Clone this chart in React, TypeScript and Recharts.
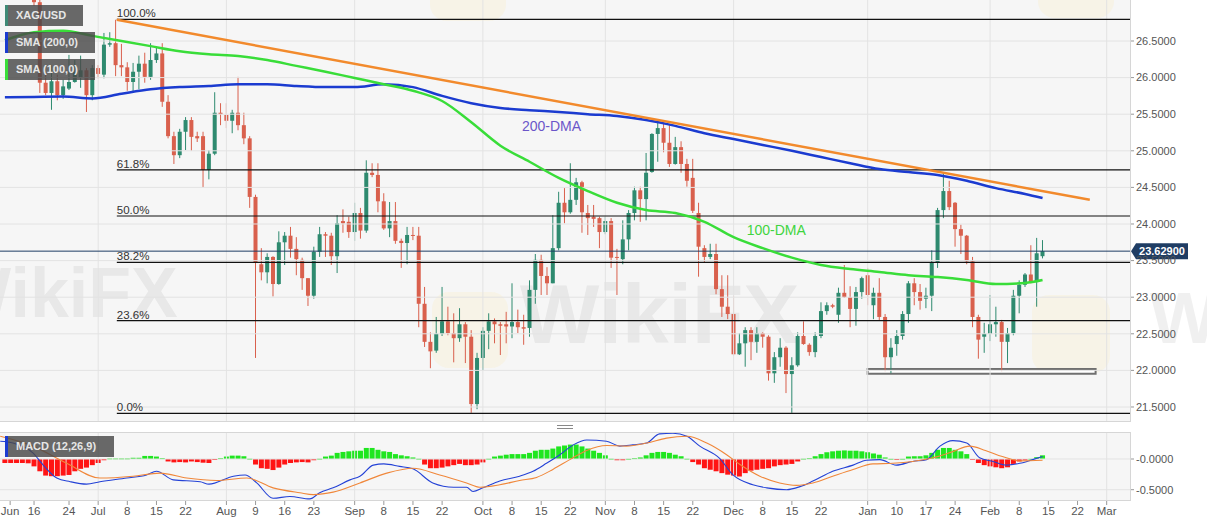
import React from "react";
import {
  ComposedChart,
  Bar,
  Line,
  XAxis,
  YAxis,
  ReferenceLine,
  ReferenceArea,
  ReferenceDot,
} from "recharts";

// one candle per trading day, index 0 = 9 Jun 2021, index 178 = 14 Feb 2022
const opens = [
  27.9, 27.68, 27.85, 28.0, 27.85, 27.55, 27.03, 25.93, 25.79, 25.95,
  25.76, 25.85, 25.94, 26.0, 26.1, 25.76, 26.13, 26.04, 26.45, 26.47,
  26.17, 26.14, 25.94, 26.08, 26.19, 26.01, 26.24, 26.33, 25.67, 25.2,
  24.94, 25.26, 25.42, 25.2, 25.2, 24.74, 24.96, 25.52, 25.49, 25.41,
  25.52, 25.35, 25.17, 24.37, 23.45, 23.34, 23.55, 23.18, 23.75, 23.84,
  23.66, 23.51, 23.26, 23.02, 23.62, 23.86, 23.84, 23.56, 24.04, 24.03,
  23.89, 24.15, 23.91, 24.7, 24.67, 24.31, 23.94, 24.04, 23.77, 23.74,
  23.85, 23.84, 22.91, 22.39, 22.27, 22.5, 22.67, 22.51, 22.44, 22.63,
  22.46, 21.54, 22.17, 22.54, 22.67, 22.63, 22.63, 22.6, 22.66, 22.59,
  22.58, 23.1, 23.51, 23.29, 23.19, 23.67, 24.29, 24.16, 24.33, 24.57,
  24.15, 24.1, 24.08, 23.89, 24.04, 23.55, 23.52, 23.79, 24.15, 24.46,
  24.34, 24.71, 25.23, 25.31, 25.11, 24.82, 25.05, 24.82, 24.63, 24.15,
  23.67, 23.55, 23.59, 23.11, 22.87, 22.77, 22.22, 22.37, 22.55, 22.39,
  22.51, 22.46, 21.96, 22.18, 22.31, 21.95, 22.07, 22.47, 22.35, 22.25,
  22.47, 22.81, 22.89, 22.76, 23.06, 23.0, 22.84, 23.07, 23.3, 22.89,
  23.06, 22.73, 22.18, 22.36, 22.47, 22.77, 23.19, 23.07, 22.98, 23.02,
  23.48, 24.19, 24.45, 24.29, 23.93, 23.84, 23.49, 22.73, 22.46, 22.5,
  22.63, 22.66, 22.39, 22.51, 23.02, 23.17, 23.31, 23.21, 23.56,
];
const highs = [
  28.15, 27.95, 28.1, 28.25, 27.95, 27.7, 27.1, 26.04, 26.17, 26.04,
  25.97, 26.31, 26.24, 26.3, 26.13, 26.17, 26.17, 26.61, 26.62, 26.79,
  26.46, 26.21, 26.2, 26.3, 26.34, 26.47, 26.42, 26.47, 25.76, 25.26,
  25.3, 25.46, 25.46, 25.26, 25.26, 25.01, 25.8, 25.65, 25.65, 25.56,
  26.01, 25.52, 25.2, 24.4, 23.67, 23.6, 23.56, 23.9, 23.89, 23.96,
  23.82, 23.54, 23.26, 23.69, 23.96, 23.89, 23.88, 24.12, 24.2, 24.1,
  24.29, 24.22, 24.87, 24.83, 24.83, 24.42, 24.3, 24.3, 23.8, 23.96,
  23.96, 23.96, 23.14, 22.52, 22.73, 23.14, 22.87, 22.78, 22.85, 22.66,
  22.55, 22.24, 22.59, 22.78, 22.71, 22.66, 22.8, 23.19, 22.83, 22.76,
  23.23, 23.59, 23.58, 23.41, 24.12, 24.44, 24.49, 24.83, 24.63, 24.59,
  24.26, 24.26, 24.1, 24.1, 24.08, 23.66, 24.05, 24.19, 24.51, 24.51,
  24.97, 25.24, 25.38, 25.38, 25.35, 25.19, 25.13, 24.89, 24.89, 24.29,
  23.71, 23.73, 23.73, 23.3, 23.3, 23.02, 22.51, 22.59, 22.59, 22.59,
  22.52, 22.48, 22.25, 22.44, 22.33, 22.18, 22.52, 22.67, 22.37, 22.52,
  22.93, 22.93, 22.91, 23.13, 23.44, 23.15, 23.14, 23.28, 23.4, 23.13,
  23.26, 22.77, 22.44, 22.55, 22.81, 23.22, 23.26, 23.18, 23.13, 23.64,
  24.22, 24.7, 24.59, 24.3, 23.99, 23.85, 23.55, 22.76, 22.65, 23.03,
  22.87, 22.69, 22.58, 23.1, 23.23, 23.33, 23.71, 23.81, 23.78,
];
const lows = [
  27.6, 27.45, 27.7, 27.75, 27.4, 26.98, 25.79, 25.76, 25.56, 25.69,
  25.71, 25.83, 25.93, 25.86, 25.53, 25.69, 25.99, 25.99, 26.42, 26.02,
  26.02, 25.82, 25.79, 25.84, 25.93, 25.97, 26.2, 25.6, 25.17, 24.82,
  24.9, 25.01, 25.0, 25.12, 24.5, 24.61, 24.94, 25.35, 25.31, 25.24,
  25.28, 25.09, 24.22, 22.17, 23.23, 23.19, 23.01, 23.17, 23.44, 23.54,
  23.3, 23.1, 22.88, 22.98, 23.55, 23.55, 23.44, 23.33, 23.88, 23.81,
  23.77, 23.8, 23.88, 24.64, 24.16, 23.92, 23.82, 23.73, 23.4, 23.45,
  23.78, 22.59, 22.32, 22.03, 22.24, 22.47, 22.48, 22.11, 22.39, 22.1,
  21.42, 21.47, 22.0, 22.29, 22.37, 22.21, 22.37, 22.44, 22.51, 22.35,
  22.46, 22.91, 23.03, 23.03, 23.19, 23.64, 24.01, 24.14, 24.26, 23.88,
  23.85, 23.96, 23.67, 23.86, 23.4, 23.03, 23.45, 23.64, 24.05, 24.03,
  24.05, 24.7, 24.85, 24.98, 24.78, 24.81, 24.7, 24.51, 24.15, 23.28,
  23.47, 23.52, 23.04, 22.73, 22.7, 22.2, 22.21, 22.05, 22.14, 22.24,
  22.31, 21.86, 21.83, 22.05, 21.69, 21.42, 22.05, 22.35, 22.2, 22.18,
  22.44, 22.76, 22.85, 22.65, 22.99, 22.59, 22.61, 22.98, 22.89, 22.7,
  22.68, 21.99, 21.96, 22.2, 22.42, 22.65, 22.89, 22.83, 22.85, 22.81,
  23.4, 24.08, 24.19, 23.69, 23.59, 23.45, 22.59, 22.16, 22.24, 22.4,
  22.46, 21.99, 22.1, 22.48, 22.78, 23.14, 23.19, 22.87, 23.53,
];
const closes = [
  27.68, 27.85, 28.0, 27.85, 27.55, 27.03, 25.93, 25.79, 25.95, 25.76,
  25.88, 25.94, 26.08, 26.1, 25.76, 26.13, 26.05, 26.45, 26.47, 26.17,
  26.14, 25.94, 26.08, 26.19, 26.01, 26.24, 26.33, 25.67, 25.2, 24.94,
  25.26, 25.42, 25.19, 25.17, 24.74, 24.96, 25.52, 25.5, 25.41, 25.52,
  25.35, 25.17, 24.37, 23.47, 23.34, 23.55, 23.18, 23.75, 23.84, 23.66,
  23.52, 23.26, 23.02, 23.62, 23.86, 23.84, 23.56, 24.01, 24.01, 23.89,
  24.15, 23.91, 24.7, 24.67, 24.31, 23.94, 24.04, 23.77, 23.74, 23.85,
  23.84, 22.91, 22.39, 22.26, 22.5, 22.67, 22.51, 22.44, 22.63, 22.46,
  21.54, 22.17, 22.54, 22.67, 22.63, 22.61, 22.6, 22.66, 22.59, 22.57,
  23.1, 23.51, 23.29, 23.19, 23.67, 24.29, 24.16, 24.33, 24.57, 24.16,
  24.08, 24.07, 23.89, 24.04, 23.54, 23.54, 23.79, 24.15, 24.46, 24.34,
  24.7, 25.23, 25.31, 25.11, 24.82, 25.05, 24.82, 24.59, 24.18, 23.69,
  23.55, 23.59, 23.11, 22.87, 22.77, 22.22, 22.37, 22.55, 22.39, 22.51,
  22.46, 21.96, 22.18, 22.31, 21.95, 22.07, 22.47, 22.36, 22.25, 22.47,
  22.81, 22.89, 22.87, 23.06, 23.0, 22.84, 23.07, 23.26, 23.03, 23.06,
  22.73, 22.18, 22.31, 22.47, 22.77, 23.19, 23.07, 22.95, 23.02, 23.47,
  24.19, 24.45, 24.23, 23.93, 23.84, 23.49, 22.73, 22.42, 22.5, 22.63,
  22.66, 22.39, 22.51, 23.02, 23.17, 23.31, 23.21, 23.6, 23.629,
];

// moving averages, read every 5th session
const smaIdx = [
  0, 5, 10, 15, 20, 25, 30, 35, 40, 45, 50, 55, 60, 65, 70, 75, 80, 85, 90,
  95, 100, 105, 110, 115, 120, 125, 130, 135, 140, 145, 150, 155, 160, 165,
  170, 175, 178,
];
const sma200 = [
  25.73, 25.735, 25.74, 25.715, 25.78, 25.84, 25.87, 25.885, 25.91, 25.91,
  25.885, 25.87, 25.87, 25.91, 25.87, 25.75, 25.65, 25.585, 25.555, 25.53,
  25.5, 25.475, 25.42, 25.34, 25.24, 25.16, 25.08, 25.0, 24.915, 24.83,
  24.75, 24.71, 24.67, 24.59, 24.49, 24.41, 24.355,
];
const sma100 = [
  26.51, 26.62, 26.64, 26.57, 26.5, 26.43, 26.36, 26.32, 26.295, 26.24,
  26.16, 26.08, 25.995, 25.91, 25.82, 25.68, 25.39, 25.07, 24.85, 24.63,
  24.45, 24.29, 24.19, 24.15, 24.03, 23.82, 23.67, 23.54, 23.44, 23.385,
  23.345, 23.3, 23.275, 23.235, 23.18, 23.195, 23.235,
];

// falling resistance line
const trendIdx = [19.2, 186.1];
const trendVal = [26.79, 24.33];

// Fibonacci retracement levels
const fibLabels = ["100.0%", "61.8%", "50.0%", "38.2%", "23.6%", "0.0%"];
const fibPrices = [26.796, 24.738, 24.109, 23.477, 22.679, 21.414];
const fibStart = 19.2;

// support zone
const zoneIdx = [148, 187.1];
const zonePrice = [21.955, 22.02];

// MACD (12,26,9)
const macdIdx = [
  -0.8, 1.4, 4.8, 6.5, 8.9, 11.2, 14, 16.3, 20.9, 24.3, 26, 28.9, 33.5, 35,
  39.2, 41.2, 43.2, 46, 48.9, 52.3, 54, 56.3, 59.2, 60.9, 63.2, 65, 67.7, 70,
  73.4, 77, 79.2, 80.3, 82, 84.9, 88.3, 90.6, 92.9, 95.2, 97.5, 99.8, 103.2,
  105.5, 107.7, 110.1, 112.3, 114.6, 117, 119.2, 122.6, 124.9, 128.3, 130.7,
  134.1, 136.4, 138.6, 142, 145.5, 147.8, 150.1, 152.9, 155.7, 158.1, 160.4,
  162.6, 165, 167.2, 169.5, 171.8, 174.1, 176.3, 178,
];
const macdVal = [
  0.29, 0.26, 0.1, -0.09, -0.31, -0.37, -0.41, -0.37, -0.31, -0.26, -0.2,
  -0.34, -0.37, -0.41, -0.28, -0.26, -0.39, -0.64, -0.61, -0.65, -0.55, -0.47,
  -0.34, -0.28, -0.1, -0.08, -0.12, -0.16, -0.39, -0.46, -0.46, -0.53, -0.47,
  -0.36, -0.28, -0.2, -0.07, 0.07, 0.23, 0.31, 0.29, 0.21, 0.23, 0.26, 0.41,
  0.42, 0.37, 0.21, 0.01, -0.26, -0.42, -0.47, -0.5, -0.45, -0.36, -0.2, -0.1,
  -0.02, -0.01, -0.1, -0.04, -0.01, 0.21, 0.3, 0.26, 0.02, -0.04, -0.1, -0.07,
  -0.01, 0.04,
];
const sigIdx = [
  -0.8, 4.8, 10.6, 16.3, 22, 26.6, 31.2, 36.3, 41.5, 46, 50.6, 52.9, 56.3,
  60.9, 65.5, 70, 74.6, 79.2, 81.5, 84.9, 88.3, 91.2, 94, 96.9, 99.8, 103.2,
  106.6, 110.1, 113.5, 117, 120.4, 123.8, 126.1, 129.5, 132.9, 135.8, 138.6,
  142, 145.5, 148.9, 152.3, 155.7, 159.2, 162.6, 165.5, 168.2, 171.1, 174.1,
  178,
];
const sigVal = [
  0.37, 0.21, -0.07, -0.31, -0.28, -0.23, -0.31, -0.35, -0.31, -0.47, -0.55,
  -0.58, -0.54, -0.39, -0.23, -0.15, -0.26, -0.39, -0.46, -0.42, -0.35, -0.3,
  -0.17, -0.01, 0.14, 0.22, 0.21, 0.26, 0.34, 0.37, 0.26, 0.07, -0.09, -0.28,
  -0.39, -0.43, -0.39, -0.28, -0.17, -0.08, -0.07, -0.04, 0.02, 0.12, 0.21,
  0.14, 0.04, -0.03, -0.02,
];
const hist = [
  -0.065, -0.065, -0.065, -0.065, -0.07, -0.12, -0.2, -0.27, -0.28, -0.28,
  -0.27, -0.26, -0.2, -0.16, -0.14, -0.1, -0.065, -0.02, 0.01, 0.01,
  0.01, 0.01, 0.02, 0.02, 0.05, 0.05, 0.04, 0.015, -0.04, -0.055,
  -0.05, -0.055, -0.04, -0.05, -0.06, -0.065, -0.005, 0.015, 0.04, 0.055,
  0.055, 0.045, 0.005, -0.09, -0.15, -0.16, -0.18, -0.14, -0.09, -0.065,
  -0.055, -0.05, -0.055, -0.02, 0.005, 0.04, 0.055, 0.1, 0.115, 0.125,
  0.135, 0.135, 0.18, 0.18, 0.15, 0.125, 0.115, 0.08, 0.06, 0.045,
  0.025, 0.005, -0.09, -0.15, -0.15, -0.14, -0.12, -0.1, -0.08, -0.1,
  -0.1, -0.09, -0.055, 0.005, 0.04, 0.055, 0.07, 0.08, 0.08, 0.08,
  0.1, 0.135, 0.15, 0.15, 0.17, 0.205, 0.22, 0.235, 0.235, 0.205,
  0.17, 0.135, 0.1, 0.06, 0.005, -0.02, -0.02, 0.003, 0.015, 0.025,
  0.06, 0.1, 0.115, 0.115, 0.1, 0.07, 0.045, 0.005, -0.05, -0.09,
  -0.15, -0.175, -0.2, -0.23, -0.255, -0.27, -0.285, -0.23, -0.19, -0.175,
  -0.16, -0.15, -0.12, -0.1, -0.09, -0.08, -0.04, 0.005, 0.015, 0.045,
  0.08, 0.11, 0.125, 0.135, 0.14, 0.135, 0.135, 0.125, 0.11, 0.09,
  0.07, 0.025, 0.003, -0.01, 0.003, 0.04, 0.045, 0.045, 0.06, 0.1,
  0.15, 0.18, 0.18, 0.15, 0.125, 0.08, -0.005, -0.065, -0.1, -0.12,
  -0.135, -0.15, -0.135, -0.08, -0.04, -0.02, 0.003, 0.03, 0.06,
];

// axes
const tickIdx = [
  0.9, 5, 11, 16, 21, 26, 31, 38, 43, 48, 53, 60, 65, 70, 75, 82, 87, 92, 97,
  103, 108, 113, 118, 125, 130, 135, 140, 148, 153, 158, 163, 169, 174, 179,
  184, 189,
];
const tickLabels = [
  "Jun", "16", "24", "Jul", "8", "15", "22", "Aug", "9", "16", "23", "Sep",
  "8", "15", "22", "Oct", "8", "15", "22", "Nov", "8", "15", "22", "Dec", "8",
  "15", "22", "Jan", "10", "17", "24", "Feb", "8", "15", "22", "Mar",
];
const monthIdx = [16, 38, 60, 82, 103, 125, 148, 169, 189];
const priceTicks = [21.5, 22, 22.5, 23, 23.5, 24, 24.5, 25, 25.5, 26, 26.5];
const macdTicks = [0, -0.5];

const X_DOMAIN: [number, number] = [-0.84, 193];
const GREEN = "#2e8a6f";
const RED = "#d9604d";
const GRID = "#e3e3e3";

const candles = opens.map((o, i) => ({
  i,
  o,
  h: highs[i],
  l: lows[i],
  c: closes[i],
}));
const histRows = hist.map((h, i) => ({ i, h }));
const sma200Rows = smaIdx.map((i, k) => ({ i, v: sma200[k] }));
const sma100Rows = smaIdx.map((i, k) => ({ i, v: sma100[k] }));
const trendRows = trendIdx.map((i, k) => ({ i, v: trendVal[k] }));
const macdRows = macdIdx.map((i, k) => ({ i, v: macdVal[k] }));
const sigRows = sigIdx.map((i, k) => ({ i, v: sigVal[k] }));
const lastPrice = closes[closes.length - 1];

const Candle = (p: any) => {
  const { x, width, payload } = p;
  let { y, height } = p;
  if (height < 0) {
    y += height;
    height = -height;
  }
  const { o, h, l, c } = payload;
  const k = h > l ? height / (h - l) : 0;
  const yo = y + (h - o) * k;
  const yc = y + (h - c) * k;
  const col = c >= o ? GREEN : RED;
  const cx = x + width / 2;
  const top = Math.min(yo, yc);
  const bh = Math.max(1, Math.abs(yc - yo));
  return (
    <g>
      <line x1={cx} x2={cx} y1={y} y2={y + height} stroke={col} strokeWidth={1} />
      <rect x={cx - 2} y={top} width={4} height={bh} fill={col} />
    </g>
  );
};

const HistBar = (p: any) => {
  const { x, width, payload } = p;
  let { y, height } = p;
  if (height < 0) {
    y += height;
    height = -height;
  }
  const cx = x + width / 2;
  return (
    <rect
      x={cx - 2.5}
      y={y}
      width={5}
      height={Math.max(height, 1)}
      fill={payload.h >= 0 ? "#1fe61f" : "#ff1414"}
    />
  );
};

const textAt =
  (text: string, color: string, size: number, dy = 0, weight = "normal") =>
  (props: any) => {
    const vb = props.viewBox || {};
    const x = (vb.x ?? 0) + (vb.width ?? 0) / 2;
    const y = (vb.y ?? 0) + (vb.height ?? 0) / 2 + dy;
    return (
      <text x={x} y={y} fill={color} fontSize={size} fontWeight={weight}>
        {text}
      </text>
    );
  };

const PriceTag = (props: any) => {
  const vb = props.viewBox || {};
  const x = (vb.x ?? 0) + (vb.width ?? 0) + 1;
  const y = vb.y ?? 0;
  return (
    <g>
      <polygon
        points={`${x},${y} ${x + 5},${y - 8} ${x + 57},${y - 8} ${x + 57},${y + 8} ${x + 5},${y + 8}`}
        fill="#1f3d64"
      />
      <text x={x + 31} y={y + 4} textAnchor="middle" fill="#fff" fontSize={11} fontWeight="bold">
        {lastPrice.toFixed(5)}
      </text>
    </g>
  );
};

const legendBox = (top: number, width: number, bar: string, text: string) => (
  <div
    style={{
      position: "absolute",
      left: 5,
      top,
      width,
      height: 21,
      background: "rgba(72,72,72,0.82)",
      borderLeft: `3px solid ${bar}`,
      boxSizing: "border-box",
      color: "#e6e6e6",
      fontSize: 11,
      fontWeight: 600,
      lineHeight: "21px",
      paddingLeft: 8,
      whiteSpace: "nowrap",
    }}
  >
    {text}
  </div>
);

const mark = (left: number, top: number, size: number) => (
  <div
    style={{
      position: "absolute",
      left,
      top,
      width: size,
      height: size,
      borderRadius: size * 0.22,
      background: "rgba(255,222,130,0.13)",
    }}
  />
);

const wordmark = (left: number, top: number, size: number) => (
  <div
    style={{
      position: "absolute",
      left,
      top,
      fontSize: size,
      fontWeight: 700,
      color: "rgba(120,120,120,0.11)",
      whiteSpace: "nowrap",
      lineHeight: 1,
    }}
  >
    WikiFX
  </div>
);

const App: React.FC = () => {
  return (
    <div
      style={{
        position: "relative",
        width: 1207,
        height: 526,
        background: "#fff",
        overflow: "hidden",
        fontFamily: '"Liberation Sans", Arial, sans-serif',
      }}
    >
      <style>{"body{margin:0}"}</style>

      {/* panel backgrounds */}
      <div style={{ position: "absolute", left: 0, top: 0, width: 1131, height: 422, background: "#f6f6f6" }} />
      <div style={{ position: "absolute", left: 0, top: 432, width: 1131, height: 68, background: "#f6f6f6" }} />

      {/* watermarks */}
      {mark(432, 292, 76)}
      {mark(1032, 295, 78)}
      {mark(430, -55, 76)}
      {mark(1038, -58, 76)}
      {wordmark(-55, 258, 70)}
      {wordmark(520, 272, 84)}
      {wordmark(1150, 282, 72)}

      {/* price panel */}
      <div style={{ position: "absolute", left: 0, top: 0 }}>
        <ComposedChart
          width={1207}
          height={422}
          data={candles}
          margin={{ top: 0, right: 0, bottom: 0, left: 0 }}
        >
          <XAxis dataKey="i" type="number" domain={X_DOMAIN} allowDataOverflow hide />
          <YAxis
            orientation="right"
            domain={[21.295, 27.06]}
            ticks={priceTicks}
            allowDataOverflow
            width={77}
            axisLine={false}
            tickLine={{ stroke: "#999" }}
            tickSize={4}
            tickFormatter={(v: number) => v.toFixed(4)}
            tick={{ fontSize: 11, fill: "#555" }}
          />

          {priceTicks.map((p) => (
            <ReferenceLine key={`h${p}`} y={p} stroke={GRID} />
          ))}
          {monthIdx.map((m) => (
            <ReferenceLine key={`v${m}`} x={m} stroke={GRID} />
          ))}

          <ReferenceArea
            x1={zoneIdx[0]}
            x2={zoneIdx[1]}
            y1={zonePrice[0]}
            y2={zonePrice[1]}
            fill="#ffffff"
            fillOpacity={1}
            stroke="#707070"
            strokeWidth={2}
          />

          <Bar
            dataKey={(d: any) => [d.l, d.h]}
            barSize={4}
            shape={Candle}
            isAnimationActive={false}
          />

          {fibPrices.map((p) => (
            <ReferenceLine
              key={`f${p}`}
              segment={[
                { x: fibStart, y: p },
                { x: X_DOMAIN[1], y: p },
              ]}
              stroke="#111"
              strokeWidth={1.2}
            />
          ))}
          {fibPrices.map((p, k) => (
            <ReferenceDot
              key={`fl${p}`}
              x={fibStart}
              y={p}
              r={1}
              fill="none"
              stroke="none"
              label={textAt(fibLabels[k], "#333", 11.5, -2)}
            />
          ))}

          <ReferenceLine
            y={lastPrice}
            stroke="#1f3d64"
            strokeWidth={1}
            label={(props: any) => <PriceTag {...props} />}
          />

          <Line
            data={sma200Rows}
            dataKey="v"
            type="monotone"
            stroke="#1b3bd0"
            strokeWidth={2.5}
            dot={false}
            activeDot={false}
            isAnimationActive={false}
          />
          <Line
            data={sma100Rows}
            dataKey="v"
            type="monotone"
            stroke="#39dd39"
            strokeWidth={2.5}
            dot={false}
            activeDot={false}
            isAnimationActive={false}
          />
          <Line
            data={trendRows}
            dataKey="v"
            type="linear"
            stroke="#f28a2c"
            strokeWidth={2.5}
            dot={false}
            activeDot={false}
            isAnimationActive={false}
          />

          <ReferenceDot
            x={88.7}
            y={25.27}
            r={1}
            fill="none"
            stroke="none"
            label={textAt("200-DMA", "#6b55c9", 14)}
          />
          <ReferenceDot
            x={127.25}
            y={23.85}
            r={1}
            fill="none"
            stroke="none"
            label={textAt("100-DMA", "#3fd43f", 14)}
          />
        </ComposedChart>
      </div>

      {/* MACD panel */}
      <div style={{ position: "absolute", left: 0, top: 432 }}>
        <ComposedChart
          width={1207}
          height={94}
          data={histRows}
          margin={{ top: 0, right: 0, bottom: 0, left: 0 }}
        >
          <XAxis
            dataKey="i"
            type="number"
            domain={X_DOMAIN}
            allowDataOverflow
            ticks={tickIdx}
            interval={0}
            height={26}
            axisLine={false}
            tickLine={{ stroke: "#999" }}
            tickSize={5}
            tickFormatter={(v: number) => tickLabels[tickIdx.indexOf(v)] ?? ""}
            tick={{ fontSize: 11.5, fill: "#555" }}
          />
          <YAxis
            orientation="right"
            domain={[-0.668, 0.44]}
            ticks={macdTicks}
            allowDataOverflow
            width={77}
            axisLine={false}
            tickLine={{ stroke: "#999" }}
            tickSize={4}
            tickFormatter={(v: number) => (v === 0 ? "-0.0000" : v.toFixed(4))}
            tick={{ fontSize: 11, fill: "#555" }}
          />
          {macdTicks.map((p) => (
            <ReferenceLine key={`mh${p}`} y={p} stroke={GRID} />
          ))}
          {monthIdx.map((m) => (
            <ReferenceLine key={`mv${m}`} x={m} stroke={GRID} />
          ))}
          <Bar dataKey="h" barSize={5} shape={HistBar} isAnimationActive={false} />
          <Line
            data={macdRows}
            dataKey="v"
            type="monotone"
            stroke="#2442d6"
            strokeWidth={1.1}
            dot={false}
            activeDot={false}
            isAnimationActive={false}
          />
          <Line
            data={sigRows}
            dataKey="v"
            type="monotone"
            stroke="#f0873a"
            strokeWidth={1.1}
            dot={false}
            activeDot={false}
            isAnimationActive={false}
          />
        </ComposedChart>
      </div>

      {/* panel borders and separator */}
      <div style={{ position: "absolute", left: 0, top: 0, width: 1131, height: 422, borderRight: "1px solid #d6d6d6", borderBottom: "1px solid #d6d6d6", boxSizing: "border-box", pointerEvents: "none" }} />
      <div style={{ position: "absolute", left: 0, top: 432, width: 1131, height: 69, border: "1px solid #d6d6d6", borderLeft: "none", boxSizing: "border-box", pointerEvents: "none" }} />
      <div style={{ position: "absolute", left: 557, top: 425, width: 16, height: 1, background: "#888" }} />
      <div style={{ position: "absolute", left: 557, top: 428, width: 16, height: 1, background: "#888" }} />

      {/* legend tags */}
      {legendBox(5, 78, "#3f8a76", "XAG/USD")}
      {legendBox(32, 90, "#1b3bd0", "SMA (200,0)")}
      {legendBox(59, 90, "#39dd39", "SMA (100,0)")}
      <div
        style={{
          position: "absolute",
          left: 5,
          top: 436,
          width: 109,
          height: 21,
          background: "rgba(72,72,72,0.82)",
          borderLeft: "3px solid #1b3bd0",
          boxSizing: "border-box",
          color: "#e6e6e6",
          fontSize: 11,
          fontWeight: 600,
          lineHeight: "21px",
          paddingLeft: 8,
          whiteSpace: "nowrap",
        }}
      >
        MACD (12,26,9)
      </div>
    </div>
  );
};

export default App;
